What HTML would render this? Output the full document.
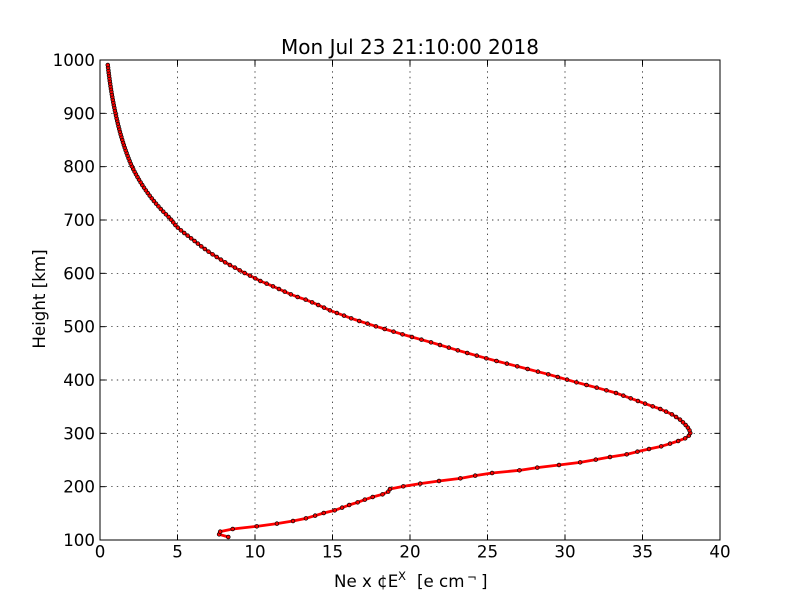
<!DOCTYPE html>
<html>
<head>
<meta charset="utf-8">
<style>
  html,body{margin:0;padding:0;background:#fff;}
  svg{display:block;}
  text{font-family:"DejaVu Sans","Liberation Sans",sans-serif;fill:#000;}
</style>
</head>
<body>
<svg id="chart" xmlns="http://www.w3.org/2000/svg" width="800" height="600" viewBox="0 0 800 600">
  <rect x="0" y="0" width="800" height="600" fill="#fff"/>
  <!-- grid -->
  <g stroke="#000" stroke-width="0.7" stroke-dasharray="1.4,4.2" fill="none">
    <line x1="177.5" y1="60" x2="177.5" y2="540"/>
    <line x1="255" y1="60" x2="255" y2="540"/>
    <line x1="332.5" y1="60" x2="332.5" y2="540"/>
    <line x1="410" y1="60" x2="410" y2="540"/>
    <line x1="487.5" y1="60" x2="487.5" y2="540"/>
    <line x1="565" y1="60" x2="565" y2="540"/>
    <line x1="642.5" y1="60" x2="642.5" y2="540"/>
    <line x1="100" y1="486.67" x2="720" y2="486.67"/>
    <line x1="100" y1="433.33" x2="720" y2="433.33"/>
    <line x1="100" y1="380" x2="720" y2="380"/>
    <line x1="100" y1="326.67" x2="720" y2="326.67"/>
    <line x1="100" y1="273.33" x2="720" y2="273.33"/>
    <line x1="100" y1="220" x2="720" y2="220"/>
    <line x1="100" y1="166.67" x2="720" y2="166.67"/>
    <line x1="100" y1="113.33" x2="720" y2="113.33"/>
  </g>
  <!-- data -->
  <g id="data">
    <polyline id="curve" fill="none" stroke="#ff0000" stroke-width="2.8" stroke-linejoin="round" stroke-linecap="round"
      points="107.7,64.3 115.3,112.3 131.7,166 170,218.3 176.7,226.7 183.3,232.3 193.3,240 201.7,246.7 210,252.7 218.3,258 226.7,263.3 235,267.7 244,272.7 253.3,277.3 261.7,281.7 270,285 278.3,288.7 288.3,293.3 296.7,296.7 306.7,300 316.7,304.3 330.7,310.7 353,319 377,326.7 403.7,334.7 432.3,342.7 459,350.7 488.7,359 518.7,366.7 549.7,374.7 577.7,382.7 598,388 616,393 631.7,398.7 646,404 660.3,409 672.7,414.7 681,420.3 687.3,426.7 690.3,431.7 690.3,434 688,436.7 684,439 677.3,441.3 669,444 659,447 649,449 637.3,451.7 624,455 610,457 594,460 578,462.7 559,465 537,467.7 515,471 494,472.7 475,475.7 456.7,479 439,481 420,483.7 401,486.7 390,489 388,492 381.7,494.7 372.7,497 364.7,499.7 356.7,502.7 350,504.7 342,507.7 333.7,510.7 324.7,512.7 315,515.7 304.7,518.7 293,521 276.7,523.7 254,526.7 232.7,529 220,531.7 219,534.7 228.3,537"/>
    <g id="markers" fill="#ff0000" stroke="#000" stroke-width="0.7"></g>
  </g>
  <!-- spines -->
  <rect x="100" y="60" width="620" height="480" fill="none" stroke="#000" stroke-width="1"/>
  <!-- ticks -->
  <g stroke="#000" stroke-width="1">
    <line x1="177.5" y1="540" x2="177.5" y2="534.4"/><line x1="177.5" y1="60" x2="177.5" y2="65.6"/>
    <line x1="255" y1="540" x2="255" y2="534.4"/><line x1="255" y1="60" x2="255" y2="65.6"/>
    <line x1="332.5" y1="540" x2="332.5" y2="534.4"/><line x1="332.5" y1="60" x2="332.5" y2="65.6"/>
    <line x1="410" y1="540" x2="410" y2="534.4"/><line x1="410" y1="60" x2="410" y2="65.6"/>
    <line x1="487.5" y1="540" x2="487.5" y2="534.4"/><line x1="487.5" y1="60" x2="487.5" y2="65.6"/>
    <line x1="565" y1="540" x2="565" y2="534.4"/><line x1="565" y1="60" x2="565" y2="65.6"/>
    <line x1="642.5" y1="540" x2="642.5" y2="534.4"/><line x1="642.5" y1="60" x2="642.5" y2="65.6"/>
    <line x1="100" y1="486.67" x2="105.6" y2="486.67"/><line x1="720" y1="486.67" x2="714.4" y2="486.67"/>
    <line x1="100" y1="433.33" x2="105.6" y2="433.33"/><line x1="720" y1="433.33" x2="714.4" y2="433.33"/>
    <line x1="100" y1="380" x2="105.6" y2="380"/><line x1="720" y1="380" x2="714.4" y2="380"/>
    <line x1="100" y1="326.67" x2="105.6" y2="326.67"/><line x1="720" y1="326.67" x2="714.4" y2="326.67"/>
    <line x1="100" y1="273.33" x2="105.6" y2="273.33"/><line x1="720" y1="273.33" x2="714.4" y2="273.33"/>
    <line x1="100" y1="220" x2="105.6" y2="220"/><line x1="720" y1="220" x2="714.4" y2="220"/>
    <line x1="100" y1="166.67" x2="105.6" y2="166.67"/><line x1="720" y1="166.67" x2="714.4" y2="166.67"/>
    <line x1="100" y1="113.33" x2="105.6" y2="113.33"/><line x1="720" y1="113.33" x2="714.4" y2="113.33"/>
  </g>
  <!-- title -->
  <text x="410" y="54" font-size="20" text-anchor="middle">Mon Jul 23 21:10:00 2018</text>
  <!-- x tick labels -->
  <g font-size="16.67" text-anchor="middle">
    <text x="100" y="557.5">0</text>
    <text x="177.5" y="557.5">5</text>
    <text x="255" y="557.5">10</text>
    <text x="332.5" y="557.5">15</text>
    <text x="410" y="557.5">20</text>
    <text x="487.5" y="557.5">25</text>
    <text x="565" y="557.5">30</text>
    <text x="642.5" y="557.5">35</text>
    <text x="720" y="557.5">40</text>
  </g>
  <!-- y tick labels -->
  <g font-size="16.67" text-anchor="end">
    <text x="95" y="546">100</text>
    <text x="95" y="492.67">200</text>
    <text x="95" y="439.33">300</text>
    <text x="95" y="386">400</text>
    <text x="95" y="332.67">500</text>
    <text x="95" y="279.33">600</text>
    <text x="95" y="226">700</text>
    <text x="95" y="172.67">800</text>
    <text x="95" y="119.33">900</text>
    <text x="95" y="66">1000</text>
  </g>
  <!-- x label -->
  <text x="334" y="587" font-size="16.67">Ne x ¢E</text>
  <text x="398" y="580" font-size="11.7">X</text>
  <text x="417" y="587" font-size="16.67">[e cm</text>
  <text x="467" y="581.5" font-size="11.7">¬</text>
  <text x="481" y="587" font-size="16.67">]</text>
  <!-- y label -->
  <text transform="translate(45,299) rotate(-90)" x="0" y="0" font-size="16.67" text-anchor="middle">Height [km]</text>
</svg>
<script>
(function(){
  // upper region: log-linear interpolation (exponential decay profile)
  var U=[[64.3,7.7],[112.3,15.3],[166,31.7],[218.3,70]];
  var A=[[170,218.3],[176.7,226.7],[183.3,232.3],[193.3,240],[201.7,246.7],[210,252.7],[218.3,258],[226.7,263.3],[235,267.7],[244,272.7],[253.3,277.3],[261.7,281.7],[270,285],[278.3,288.7],[288.3,293.3],[296.7,296.7],[306.7,300],[316.7,304.3],[330.7,310.7],[353,319],[377,326.7],[403.7,334.7],[432.3,342.7],[459,350.7],[488.7,359],[518.7,366.7],[549.7,374.7],[577.7,382.7],[598,388],[616,393],[631.7,398.7],[646,404],[660.3,409],[672.7,414.7],[681,420.3],[687.3,426.7],[690.3,431.7],[690.3,434],[688,436.7],[684,439],[677.3,441.3],[669,444],[659,447],[649,449],[637.3,451.7],[624,455],[610,457],[594,460],[578,462.7],[559,465],[537,467.7],[515,471],[494,472.7],[475,475.7],[456.7,479],[439,481],[420,483.7],[401,486.7],[390,489],[388,492],[381.7,494.7],[372.7,497],[364.7,499.7],[356.7,502.7],[350,504.7],[342,507.7],[333.7,510.7],[324.7,512.7],[315,515.7],[304.7,518.7],[293,521],[276.7,523.7],[254,526.7],[232.7,529],[220,531.7],[219,534.7],[228.3,537]];
  function xAt(y){
    if(y<=218.3){
      if(y<=U[0][0]){
        var s0=(Math.log(U[1][1])-Math.log(U[0][1]))/(U[1][0]-U[0][0]);
        return 100+Math.exp(Math.log(U[0][1])+s0*(y-U[0][0]));
      }
      for(var j=0;j<U.length-1;j++){
        var p=U[j],q=U[j+1];
        if(y>=p[0]&&y<=q[0]){
          var t0=(y-p[0])/(q[0]-p[0]);
          return 100+Math.exp(Math.log(p[1])+(Math.log(q[1])-Math.log(p[1]))*t0);
        }
      }
    }
    for(var i=0;i<A.length-1;i++){
      var a=A[i],b=A[i+1];
      if(y>=a[1]&&y<=b[1]){
        var t=(y-a[1])/(b[1]-a[1]);
        return a[0]+(b[0]-a[0])*t;
      }
    }
    return A[A.length-1][0];
  }
  var pts=[];
  for(var k=0;;k++){
    var y=537-k*8/3;
    if(y<64) break;
    pts.push([xAt(y),y]);
  }
  var ns="http://www.w3.org/2000/svg";
  var s=pts.map(function(p){return p[0].toFixed(2)+","+p[1].toFixed(2);}).join(" ");
  document.getElementById("curve").setAttribute("points",s);
  var g=document.getElementById("markers");
  pts.forEach(function(p){
    var c=document.createElementNS(ns,"circle");
    c.setAttribute("cx",p[0].toFixed(2));
    c.setAttribute("cy",p[1].toFixed(2));
    c.setAttribute("r","1.9");
    g.appendChild(c);
  });
})();
</script>
</body>
</html>
